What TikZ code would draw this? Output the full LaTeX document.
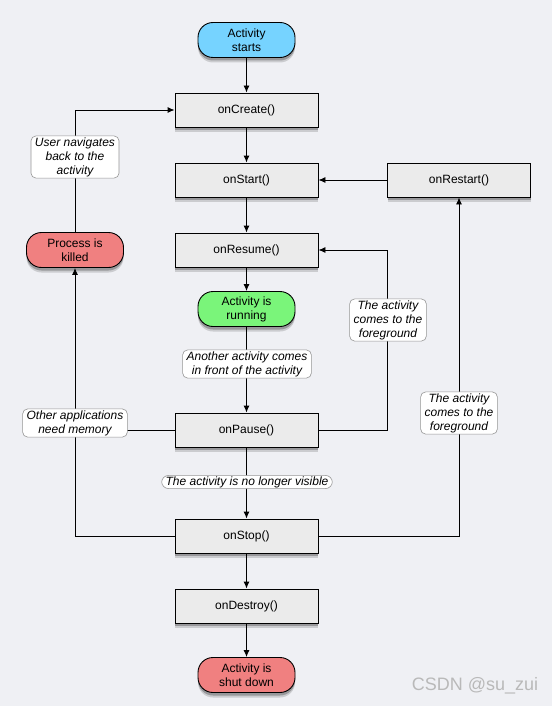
\documentclass[tikz,border=0pt]{standalone}
\usepackage{fontspec}
\setmainfont{Liberation Sans}
\usetikzlibrary{shadows,arrows.meta}
\definecolor{bg}{RGB}{239,240,244}
\definecolor{boxgray}{RGB}{235,235,235}
\definecolor{startblue}{RGB}{118,211,255}
\definecolor{killred}{RGB}{240,128,128}
\definecolor{rungreen}{RGB}{122,245,122}
\definecolor{labborder}{RGB}{150,150,150}
\begin{document}
\begin{tikzpicture}[x=1pt,y=-1pt,
  softshadow/.style={
    general shadow={shadow xshift=0pt, shadow yshift=-5pt, fill=black, opacity=0.15},
    general shadow={shadow xshift=0pt, shadow yshift=-3pt, fill=black, opacity=0.25}},
  fn/.style={draw, fill=boxgray, line width=0.9pt, minimum width=143pt, minimum height=34pt,
    softshadow, font=\fontsize{12}{14}\selectfont},
  pill/.style={draw, line width=0.9pt, rounded corners=15pt, minimum width=97pt, minimum height=35pt,
    align=center, inner sep=1pt, softshadow, font=\fontsize{12}{14}\selectfont},
  lab/.style={draw=labborder, fill=white, line width=0.6pt, rounded corners=5pt, align=center,
    inner xsep=4pt, inner ysep=1.5pt, font=\itshape\fontsize{12}{14}\selectfont},
  arr/.style={line width=0.9pt, -{Latex[length=7pt,width=6pt]}},
  ln/.style={line width=0.9pt}]
\fill[bg] (0,0) rectangle (552,706);
\useasboundingbox (0,0) rectangle (552,706);

% nodes
\node[pill, fill=startblue] (starts) at (246.5,40) {Activity\\starts};
\node[fn] (create) at (246.5,110) {onCreate()};
\node[fn] (start) at (246.5,180) {onStart()};
\node[fn] (restart) at (459,180) {onRestart()};
\node[fn] (resume) at (246.5,250) {onResume()};
\node[pill, fill=killred] (killed) at (75,250) {Process is\\killed};
\node[pill, fill=rungreen] (running) at (246.5,309) {Activity is\\running};
\node[fn] (pause) at (246.5,430) {onPause()};
\node[fn] (stop) at (246.5,536) {onStop()};
\node[fn] (destroy) at (246.5,606) {onDestroy()};
\node[pill, fill=killred] (shut) at (246.5,675) {Activity is\\shut down};

\coordinate (pr) at (387,250);

% connectors
\draw[arr] (starts) -- (create);
\draw[arr] (create) -- (start);
\draw[arr] (start) -- (resume);
\draw[arr] (resume) -- (running);
\draw[arr] (running) -- (pause);
\draw[arr] (pause) -- (stop);
\draw[arr] (stop) -- (destroy);
\draw[arr] (destroy) -- (shut);
\draw[arr] (restart.west) -- (start.east);
\draw[arr] (killed.north) |- (create.west);
\draw[arr] (stop.west) -| (killed.south);
\draw[ln] (pause.west) -- (pause.west -| killed.south);
\draw[arr] (pause.east) -| (pr) -- (resume.east);
\draw[arr] (stop.east) -| (restart.south);

% labels
\node[lab] (l1) at (75,157) {User navigates\\back to the\\activity};
\node[lab] (l2) at (388,320) {The activity\\comes to the\\foreground};
\node[lab] (l3) at (459,413) {The activity\\comes to the\\foreground};
\node[lab] (l4) at (247,364) {Another activity comes\\in front of the activity};
\node[lab] (l5) at (75,423) {Other applications\\need memory};
\node[lab, rounded corners=7pt, inner ysep=1pt] (l6) at (247,482) {The activity is no longer visible};

\node[text=gray!55, font=\fontsize{18}{18}\selectfont] (wm) at (475,686) {CSDN @su\_zui};
\end{tikzpicture}
\end{document}
